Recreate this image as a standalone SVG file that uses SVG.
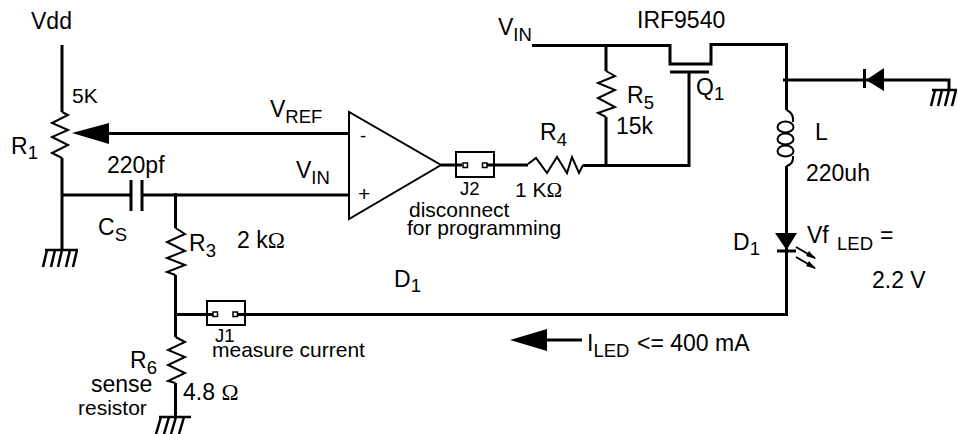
<svg xmlns="http://www.w3.org/2000/svg" width="958" height="434" viewBox="0 0 958 434">
<style>
.w{fill:none;stroke:#000;stroke-width:3}
.t{fill:none;stroke:#000;stroke-width:2}
.h{fill:none;stroke:#000;stroke-width:2.5}
.f{fill:#000;stroke:none}
.p{fill:#fff;stroke:#000;stroke-width:1.5}
text{font-family:"Liberation Sans",Arial,sans-serif;font-size:23px;fill:#000}
.s{font-size:18.5px}
.m{font-size:21px}
.o{font-family:"Liberation Serif","Times New Roman",serif}
</style>
<rect width="958" height="434" fill="#fff"/>
<g id="connectors">
<path class="w" d="M62 45V112M62 158V250"/>
<path class="w" d="M105 133.500H349"/>
<path class="w" d="M62 195H131M142 195H349"/>
<path class="w" d="M175.500 193V228M175.500 275V337M175.500 383V417"/>
<path class="w" d="M175.500 314.500H213M238 314.500H786.500V166M786.500 110V44.500H711V64H670V45.500H532"/>
<path class="w" d="M441 165H462M487 165H528M583 165.500H689V73"/>
<path class="w" d="M606 46V71M606 117V165"/>
<path class="w" d="M783 80H949V90"/>
<path class="w" d="M545 340H582"/>
</g>
<g id="R1"><path class="t" d="M62 112L68 115L52 123L68 130L52 137L68 145L52 153L62 158"/><path class="f" d="M72 133L109 123V144Z"/>
<text x="72" y="103" class="m">5K</text><text x="11" y="154">R<tspan class="s" dy="5">1</tspan></text><text x="31" y="29">Vdd</text></g>
<g id="C1"><path class="w" d="M131 180V211M142 180V211"/><text x="107" y="173">220pf</text><text x="98" y="235">C<tspan class="s" dy="6">S</tspan></text></g>
<g id="opamp"><path class="t" d="M349 112V219L441 165Z"/><text x="360" y="142" class="s">-</text><text x="358" y="201" class="m">+</text>
<text x="270" y="117">V<tspan class="s" dy="6">REF</tspan></text><text x="296" y="178">V<tspan class="s" dy="6">IN</tspan></text></g>
<g id="vin"><text x="498" y="35">V<tspan class="s" dy="6">IN</tspan></text></g>
<g id="J2"><rect class="t" x="456" y="152" width="38" height="25"/><rect class="p" x="463" y="163" width="4.500" height="4.500"/><rect class="p" x="482.500" y="163" width="4.500" height="4.500"/>
<text x="460" y="195" class="s">J2</text><text x="409" y="217" class="m">disconnect</text><text x="407" y="235" class="m">for programming</text></g>
<g id="R4"><path class="t" d="M528 164L536 158L547 173L557 157L567 173L572 157L579 173L583 165"/><text x="540" y="140">R<tspan class="s" dy="6">4</tspan></text><text x="515" y="197" class="m">1 K<tspan class="o">Ω</tspan></text></g>
<g id="R5"><path class="t" d="M606 71L615 76L598 83L615 90L598 98L615 107L598 113L606 117"/><text x="627" y="103">R<tspan class="s" dy="6">5</tspan></text><text x="616" y="134">15k</text></g>
<g id="Q1"><path class="w" d="M670 72H709"/><text x="637" y="28">IRF9540</text><text x="696" y="95">Q<tspan class="s" dy="5">1</tspan></text></g>
<g id="D2"><path class="w" d="M864.500 69V88"/><path class="f" d="M866 80L884 68V91Z"/></g>
<g id="L"><path class="t" d="M786.500 110Q794 113 793 122M793 156Q794 164 786.500 166"/><ellipse class="t" cx="785.500" cy="127" rx="8" ry="5.500"/><ellipse class="t" cx="785.500" cy="139" rx="8" ry="5.500"/><ellipse class="t" cx="785.500" cy="151" rx="8" ry="5.500"/><text x="815" y="140">L</text><text x="806" y="181">220uh</text></g>
<g id="D1"><path class="f" d="M775 233H797L786.500 250Z"/><path class="w" d="M777 251H796M786.500 222V263"/><path class="t" d="M796 247L815 258M796 257L815 268"/><path class="f" d="M816 259L806 256L809 251ZM816 269L806 266L809 261Z"/><text x="733" y="250">D<tspan class="s" dy="5">1</tspan></text><text x="807" y="243">Vf</text><text x="837" y="250" class="s">LED</text><text x="880" y="243">=</text><text x="872" y="288">2.2 V</text></g>
<g id="gnd1"><path class="h" d="M932 90H957M931 106L935 90M938 106L942 90M945 106L949 90M952 106L956 90"/></g>
<g id="gnd2"><path class="h" d="M45 250H78M43 267L47 250M51 267L55 250M58 267L62 250M66 267L70 250M73 267L77 250"/></g>
<g id="gnd3"><path class="h" d="M159 417H191M156 434L161 417M164 434L169 417M171 434L176 417M179 434L184 417"/></g>
<g id="R3"><path class="t" d="M175.500 228L185 234L167 242L185 251L167 258L185 265L167 272L175.500 275"/><text x="189" y="251">R<tspan class="s" dy="6">3</tspan></text><text x="237" y="248">2 k<tspan class="o">Ω</tspan></text></g>
<g id="J1"><rect class="t" x="207" y="301" width="38" height="24"/><rect class="p" x="213" y="312" width="4.500" height="4.500"/><rect class="p" x="233" y="312" width="4.500" height="4.500"/>
<text x="215" y="342" class="s">J1</text><text x="212" y="357" class="m">measure current</text></g>
<g id="R6"><path class="t" d="M175.500 337L185 342L168 350L185 357L168 365L185 373L168 381L175.500 383"/><text x="130" y="368">R<tspan class="s" dy="6">6</tspan></text><text x="91" y="392" style="font-size:23px">sense</text><text x="78" y="415" class="m">resistor</text><text x="183" y="400">4.8 <tspan class="o">Ω</tspan></text></g>
<g id="D1-label"><text x="394" y="287">D<tspan class="s" dy="5">1</tspan></text></g>
<g id="current"><path class="f" d="M510 340L547 329V351Z"/><text x="587" y="351">I<tspan class="s" dy="6">LED</tspan></text><text x="637" y="351">&lt;= 400 mA</text></g>
</svg>
